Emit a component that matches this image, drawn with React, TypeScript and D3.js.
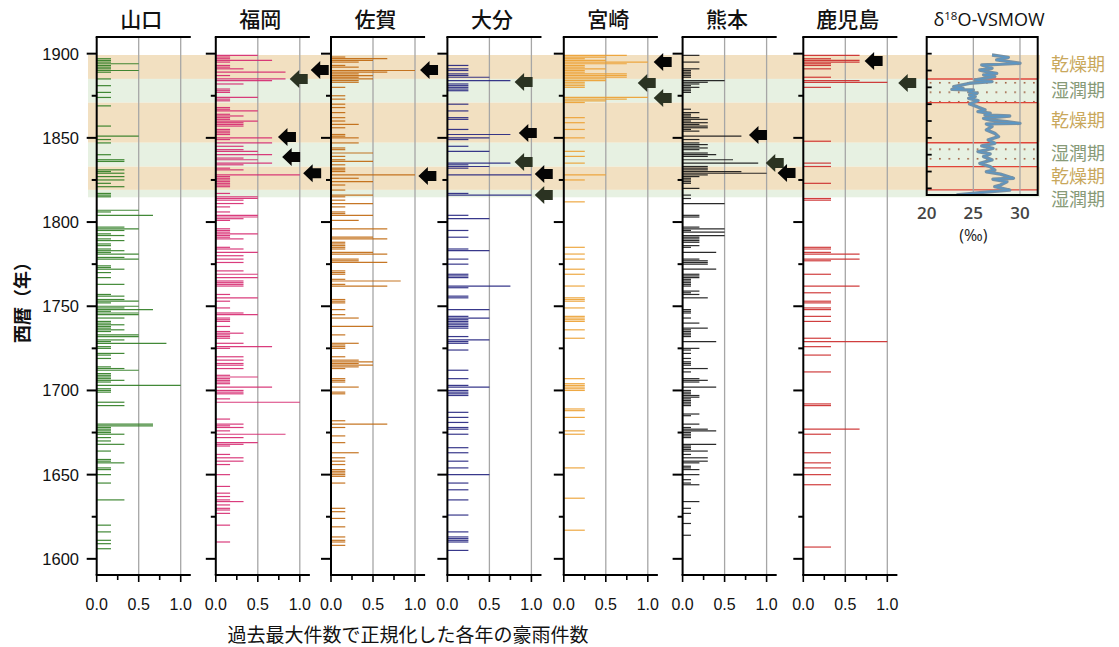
import React from 'react';
import * as d3 from 'd3';

// ---------- DATA ----------
const prefectures = ['山口', '福岡', '佐賀', '大分', '宮崎', '熊本', '鹿児島'];
const barColors = ['#2e7d22', '#d6286f', '#c0680e', '#23237f', '#eda030', '#141414', '#cc2a2a'];

// [year, normalized heavy-rain count]
const yamaguchi: [number, number][] = [
  [1897, .17], [1896, .17], [1895, .17], [1894, .5], [1893, .17], [1892, .17], [1891, .17], [1890, .5], [1889, .17], [1885, .17], [1881, .17], [1877, .17], [1874, .17], [1869, .17], [1857, .17], [1851, .5], [1849, .17], [1847, .17], [1840, .17], [1837, .33], [1836, .33], [1831, .33], [1830, .17], [1829, .33], [1827, .33], [1825, .33], [1823, .17], [1821, .33], [1817, .17], [1816, .17], [1815, .17], [1807, .5], [1806, .17], [1804, .67], [1797, .33], [1796, .5], [1795, .33], [1793, .17], [1792, .33], [1790, .17], [1789, .33], [1787, .17], [1786, .17], [1784, .17], [1783, .33], [1782, .17], [1781, .5], [1779, .33], [1778, .5], [1774, .17], [1773, .17], [1772, .33], [1770, .17], [1767, .17], [1763, .33], [1757, .17], [1756, .33], [1754, .33], [1753, .5], [1752, .17], [1750, .5], [1749, .33], [1748, .67], [1747, .17], [1746, .5], [1745, .5], [1743, .33], [1741, .17], [1740, .17], [1739, .33], [1738, .17], [1737, .17], [1736, .33], [1735, .17], [1733, .5], [1732, .5], [1730, .33], [1729, .17], [1728, .83], [1726, .17], [1725, .17], [1722, .33], [1721, .17], [1719, .17], [1714, .17], [1713, .33], [1712, .5], [1710, .17], [1709, .17], [1708, .17], [1707, .17], [1706, .33], [1705, .17], [1703, 1.0], [1701, .17], [1700, .17], [1699, .17], [1693, .33], [1691, .33], [1680, .67], [1679, .67], [1678, .17], [1677, .17], [1676, .17], [1675, .17], [1674, .33], [1672, .17], [1670, .17], [1668, .33], [1664, .17], [1659, .17], [1658, .17], [1657, .33], [1654, .17], [1653, .17], [1650, .17], [1645, .17], [1635, .33], [1620, .17], [1616, .17], [1611, .17], [1609, .17], [1606, .17],
];
const fukuoka: [number, number][] = [
  [1899, .5], [1898, .17], [1897, .17], [1896, .67], [1895, .17], [1893, .17], [1892, .17], [1891, .33], [1889, .83], [1887, .17], [1885, .83], [1884, .67], [1882, .33], [1879, .17], [1878, .17], [1877, .17], [1874, .5], [1873, .17], [1872, .17], [1868, .17], [1867, .17], [1866, .5], [1864, .17], [1863, .33], [1862, .17], [1861, .17], [1860, .5], [1859, .33], [1858, .33], [1857, .33], [1855, .17], [1854, .17], [1853, .17], [1852, .17], [1850, .67], [1849, .17], [1847, .67], [1845, .33], [1843, .33], [1842, .5], [1840, .67], [1838, .33], [1837, .5], [1835, .67], [1834, .33], [1832, .17], [1831, .33], [1828, 1.0], [1827, .17], [1826, .17], [1825, .17], [1824, .17], [1823, .17], [1822, .17], [1821, .17], [1817, .17], [1815, .5], [1814, .5], [1813, .33], [1811, .33], [1809, .17], [1806, .17], [1804, .5], [1803, .5], [1802, .33], [1801, .17], [1796, .17], [1795, .17], [1794, .17], [1793, .5], [1792, .17], [1791, .17], [1790, .33], [1785, .17], [1784, .33], [1782, .5], [1780, .33], [1778, .33], [1776, .33], [1771, .33], [1769, .5], [1767, .5], [1765, .33], [1764, .33], [1763, .33], [1762, .33], [1757, .17], [1755, .5], [1753, .17], [1749, .17], [1746, .33], [1745, .5], [1743, .17], [1742, .17], [1741, .17], [1738, .17], [1735, .17], [1734, .33], [1733, .17], [1732, .17], [1731, .17], [1728, .33], [1726, .67], [1725, .17], [1720, .33], [1718, .33], [1716, .33], [1715, .33], [1713, .33], [1709, .17], [1708, .5], [1707, .17], [1706, .17], [1705, .17], [1704, .17], [1702, .67], [1700, .33], [1699, .33], [1698, .33], [1695, .17], [1693, 1.0], [1683, .17], [1680, .33], [1679, .17], [1678, .33], [1676, .17], [1674, .83], [1672, .33], [1669, .5], [1668, .33], [1667, .17], [1662, .17], [1660, .33], [1658, .33], [1656, .17], [1650, .17], [1643, .17], [1639, .17], [1637, .17], [1635, .17], [1634, .33], [1632, .17], [1630, .17], [1629, .17], [1627, .17], [1620, .17], [1610, .17],
];
const saga: [number, number][] = [
  [1898, .17], [1897, .67], [1896, .5], [1895, .33], [1893, .17], [1892, .33], [1890, 1.0], [1889, .67], [1888, .33], [1887, .5], [1886, .33], [1885, .5], [1884, .33], [1883, .33], [1880, .17], [1875, .17], [1873, .17], [1870, .17], [1868, .17], [1865, .17], [1862, .17], [1860, .17], [1858, .33], [1856, .17], [1852, .17], [1851, .17], [1850, .33], [1847, .33], [1844, .17], [1843, .17], [1841, .5], [1839, .17], [1837, .17], [1836, .5], [1834, .17], [1832, .17], [1831, .17], [1830, .17], [1828, 1.0], [1826, .33], [1824, .5], [1822, .17], [1819, .17], [1816, .5], [1815, .17], [1813, .17], [1811, .5], [1809, .17], [1806, .17], [1805, .17], [1804, .5], [1801, .33], [1796, .67], [1791, .5], [1790, .67], [1788, .17], [1787, .17], [1786, .17], [1785, .17], [1784, .17], [1782, .5], [1781, .67], [1778, .33], [1777, .33], [1776, .67], [1771, .17], [1770, .17], [1769, .17], [1766, .17], [1765, .83], [1763, .17], [1762, .67], [1754, .17], [1753, .17], [1752, .17], [1748, .17], [1745, .17], [1743, .33], [1738, .5], [1733, .17], [1728, .33], [1727, .17], [1726, .17], [1725, .17], [1720, .17], [1718, .33], [1717, .5], [1716, .33], [1715, .5], [1714, .33], [1713, .17], [1707, .17], [1706, .17], [1705, .17], [1702, .33], [1699, .17], [1698, .17], [1682, .17], [1680, .67], [1678, .17], [1673, .17], [1669, .17], [1663, .33], [1660, .17], [1658, .17], [1656, .17], [1653, .17], [1652, .17], [1651, .17], [1650, .17], [1649, .17], [1645, .17], [1630, .17], [1628, .17], [1624, .17], [1619, .17], [1613, .17], [1611, .17], [1610, .17], [1608, .17],
];
const oita: [number, number][] = [
  [1893, .25], [1891, .25], [1890, .25], [1888, .25], [1887, .25], [1886, .5], [1884, .75], [1882, .25], [1881, .25], [1880, .25], [1879, .25], [1878, .25], [1870, .25], [1866, .25], [1862, .25], [1861, .25], [1855, .25], [1852, .75], [1850, .5], [1849, .25], [1845, .25], [1842, .5], [1835, .75], [1834, .25], [1833, .5], [1832, .25], [1828, 1.0], [1817, .25], [1816, 1.0], [1804, .25], [1802, .5], [1795, .25], [1791, .25], [1784, .25], [1783, .5], [1778, .25], [1775, .25], [1769, .25], [1768, .25], [1767, .25], [1762, .75], [1761, .25], [1756, .25], [1755, .25], [1748, .5], [1744, .25], [1743, .5], [1742, .25], [1741, .25], [1740, .25], [1739, .25], [1738, .25], [1737, .25], [1732, .25], [1730, .5], [1729, .25], [1728, .25], [1724, .25], [1712, .25], [1707, .25], [1703, .25], [1702, .5], [1700, .25], [1699, .25], [1698, .25], [1697, .25], [1687, .25], [1684, .25], [1681, .25], [1678, .25], [1677, .25], [1674, .25], [1666, .25], [1663, .25], [1658, .25], [1654, .25], [1650, .5], [1645, .25], [1641, .25], [1635, .25], [1626, .25], [1616, .25], [1613, .25], [1612, .25], [1611, .25], [1610, .25], [1605, .25],
];
const miyazaki: [number, number][] = [
  [1899, .75], [1898, .5], [1897, .25], [1896, .5], [1895, 1.0], [1894, .75], [1893, .25], [1892, .25], [1891, .5], [1890, .25], [1889, .25], [1888, .75], [1887, .75], [1886, .75], [1885, .5], [1884, .5], [1883, .25], [1882, .25], [1881, .25], [1880, .25], [1874, 1.0], [1873, .75], [1872, .5], [1871, .25], [1862, .25], [1859, .25], [1855, .25], [1850, .25], [1842, .25], [1839, .25], [1835, .25], [1828, .5], [1825, .25], [1812, .25], [1785, .25], [1781, .25], [1778, .25], [1772, .25], [1769, .25], [1762, .25], [1755, .25], [1754, .25], [1753, .25], [1749, .25], [1744, .25], [1743, .25], [1742, .25], [1741, .25], [1736, .25], [1731, .25], [1707, .25], [1704, .25], [1703, .25], [1702, .25], [1701, .25], [1700, .25], [1689, .25], [1688, .25], [1684, .25], [1676, .25], [1674, .25], [1654, .25], [1636, .25], [1617, .25],
];
const kumamoto: [number, number][] = [
  [1899, .2], [1895, .2], [1891, .2], [1890, .1], [1889, .1], [1888, .1], [1887, .1], [1886, .1], [1884, .5], [1883, .3], [1882, .2], [1881, .1], [1880, .2], [1879, .1], [1878, .1], [1877, .1], [1867, .1], [1865, .2], [1864, .1], [1863, .1], [1862, .2], [1861, .3], [1860, .1], [1859, .3], [1858, .2], [1857, .3], [1856, .3], [1855, .1], [1854, .2], [1851, .7], [1849, .2], [1847, .2], [1846, .3], [1845, .2], [1844, .3], [1843, .2], [1841, .3], [1840, .4], [1839, .3], [1837, .6], [1835, .9], [1833, .3], [1832, .3], [1831, .3], [1830, .7], [1829, 1.0], [1828, .3], [1827, .2], [1826, .1], [1825, .1], [1824, .1], [1823, .1], [1820, .2], [1816, .1], [1814, .1], [1811, .5], [1804, .2], [1803, .2], [1797, .2], [1796, .5], [1795, .1], [1794, .5], [1792, .5], [1791, .2], [1790, .2], [1789, .2], [1788, .2], [1786, .2], [1785, .1], [1782, .4], [1778, .2], [1777, .3], [1776, .3], [1775, .3], [1772, .4], [1769, .2], [1768, .2], [1767, .2], [1766, .1], [1765, .1], [1764, .1], [1763, .1], [1762, .1], [1759, .2], [1758, .1], [1757, .2], [1755, .3], [1748, .1], [1747, .1], [1746, .1], [1743, .1], [1740, .2], [1737, .3], [1736, .1], [1735, .1], [1734, .1], [1733, .1], [1732, .1], [1729, .4], [1725, .2], [1724, .1], [1722, .1], [1719, .1], [1717, .1], [1716, .1], [1715, .1], [1713, .3], [1711, .1], [1707, .2], [1706, .3], [1705, .2], [1702, .4], [1700, .1], [1699, .1], [1698, .1], [1697, .2], [1696, .2], [1695, .1], [1694, .1], [1693, .1], [1692, .1], [1691, .1], [1686, .2], [1685, .1], [1680, .2], [1678, .1], [1677, .3], [1676, .4], [1675, .1], [1674, .1], [1673, .1], [1672, .1], [1668, .4], [1667, .1], [1666, .1], [1665, .1], [1664, .3], [1662, .1], [1660, .3], [1658, .3], [1657, .2], [1655, .1], [1654, .1], [1653, .2], [1650, .2], [1647, .1], [1645, .1], [1644, .2], [1634, .2], [1630, .1], [1627, .1], [1621, .1], [1614, .1],
];
const kagoshima: [number, number][] = [
  [1899, .67], [1897, .33], [1896, .67], [1895, .67], [1894, .33], [1893, .33], [1891, .33], [1886, .33], [1884, .67], [1883, 1.0], [1880, .33], [1848, .33], [1835, .33], [1833, .33], [1823, .33], [1814, .33], [1813, .33], [1785, .33], [1784, .33], [1782, .33], [1781, .67], [1778, .67], [1777, .33], [1769, .33], [1762, .67], [1758, .33], [1753, .33], [1752, .33], [1749, .33], [1748, .33], [1744, .33], [1741, .33], [1731, .33], [1729, 1.0], [1726, .33], [1721, .33], [1711, .33], [1692, .33], [1691, .33], [1677, .67], [1674, .33], [1663, .33], [1657, .33], [1654, .33], [1650, .33], [1644, .33], [1607, .33],
];
const seriesList = [yamaguchi, fukuoka, saga, oita, miyazaki, kumamoto, kagoshima];

// climate periods (dry / wet)
const periodStart = [1899.2, 1885.0, 1870.9, 1847.1, 1832.9, 1819.1];
const periodEnd = [1885.0, 1870.9, 1847.1, 1832.9, 1819.1, 1814.7];
const periodType = ['dry', 'wet', 'dry', 'wet', 'dry', 'wet'];
const periodLabelYear = [1893.3, 1878.4, 1860.6, 1840.6, 1826.8, 1813.1];
const periodNames: Record<string, string> = { dry: '乾燥期', wet: '湿潤期' };

// δ18O record
const d18Year = [1899.2, 1897.8, 1896.3, 1894.3, 1893.3, 1891.3, 1890.3, 1889.3, 1888.3, 1887.4, 1886.4, 1884.4, 1883.4, 1882.4, 1880.4, 1879.4, 1878.8, 1878.4, 1877.5, 1876.5, 1875.5, 1874.5, 1873.5, 1872.1, 1870.1, 1868.5, 1866.6, 1865.6, 1864.6, 1863.6, 1863.0, 1861.6, 1860.6, 1859.6, 1858.6, 1858.3, 1856.7, 1854.7, 1852.7, 1850.7, 1848.8, 1846.8, 1845.2, 1843.8, 1841.8, 1840.4, 1838.9, 1836.9, 1834.9, 1832.9, 1830.9, 1829.9, 1828.5, 1826.0, 1825.4, 1824.0, 1822.0, 1821.0, 1819.0, 1817.5, 1816.1];
const d18Value = [27.0, 28.75, 27.5, 30.0, 25.9, 27.0, 25.7, 26.4, 27.5, 26.1, 27.3, 25.2, 27.0, 24.6, 22.9, 23.9, 22.7, 25.0, 24.5, 25.4, 24.6, 25.2, 24.5, 25.5, 24.6, 25.4, 26.25, 25.5, 26.8, 26.25, 28.9, 26.1, 26.8, 28.6, 30.0, 26.4, 27.0, 26.4, 27.3, 27.7, 26.6, 27.3, 25.9, 27.1, 25.5, 26.8, 26.1, 27.0, 25.7, 26.8, 27.3, 26.4, 27.9, 29.3, 27.1, 28.6, 27.9, 27.3, 28.9, 25.7, 23.2];

// arrows: panel index, year, x-value of tip, kind
const arrowPanel = [1, 1, 1, 1, 1, 2, 2, 3, 3, 3, 3, 3, 4, 4, 4, 5, 5, 5, 6, 6];
const arrowYear = [1890.3, 1885.0, 1850.5, 1838.6, 1829.0, 1890.3, 1827.3, 1883.2, 1852.9, 1835.7, 1828.6, 1816.0, 1895.0, 1882.6, 1873.7, 1851.7, 1835.1, 1829.2, 1895.7, 1882.6];
const arrowTip = [1.13, 0.88, 0.74, 0.79, 1.04, 1.06, 1.04, 0.80, 0.85, 0.80, 1.04, 1.04, 1.07, 0.88, 1.07, 0.79, 0.99, 1.13, 0.73, 1.13];
const arrowKind = ['k', 'o', 'k', 'k', 'k', 'k', 'k', 'o', 'k', 'o', 'k', 'o', 'k', 'o', 'o', 'k', 'o', 'k', 'k', 'o'];

const xTicks = [0, 0.5, 1.0];
const yLabelTicks = [1600, 1650, 1700, 1750, 1800, 1850, 1900];
const d18Ticks = [20, 25, 30];

// ---------- LAYOUT ----------
const W = 1119, H = 647;
const TOP = 37, BOTTOM = 575;
const panelLeft = [96.7, 215.8, 331, 447.4, 563.8, 682.6, 803.3];
const UNIT = 84;
const AXIS_EXT = 1.12;
const yScale = d3.scaleLinear().domain([1590.4, 1909.9]).range([BOTTOM, TOP]);
const D18_LEFT = 926.7, D18_RIGHT = 1037.7, D18_BOTTOM = 195;
const d18x = d3.scaleLinear().domain([20, 31.9]).range([D18_LEFT, D18_RIGHT]);
const BAND_L = 88, BAND_R = 1040;

const tanColor = '#f2e0c1';
const greenColor = '#e7f1e2';
const jp = '"Noto Sans CJK JP", "Noto Sans", sans-serif';
const arial = '"Liberation Sans", Arial, sans-serif';
const narrow = '"Liberation Sans Narrow", "Arial Narrow", "Liberation Sans", sans-serif';

function arrowPath(x0: number, y: number) {
  return `M${x0},${y} L${x0 + 9.5},${y - 9} L${x0 + 9.5},${y - 5} L${x0 + 18},${y - 5} L${x0 + 18},${y + 5} L${x0 + 9.5},${y + 5} L${x0 + 9.5},${y + 9} Z`;
}

export default function App() {
  const minorTicks = d3.range(1600, 1901, 25);
  const d18Line = d3.line<number>()
    .x((_, i) => d18x(d18Value[i]))
    .y((_, i) => yScale(d18Year[i]))
    .curve(d3.curveLinear);
  const d18Path = d18Line(d18Year) || '';
  const d18TickYears = d3.range(1820, 1901, 10);

  return (
    <svg width={W} height={H} style={{ position: 'absolute', left: 0, top: 0, background: '#fff' }}>
      <defs>
        <pattern id="dots" width="9.4" height="9.5" patternUnits="userSpaceOnUse" x={D18_LEFT + 3} y={yScale(1885) + 3}>
          <rect x="0" y="0" width="1.6" height="1.6" fill="#9b5a3a" />
        </pattern>
        <clipPath id="d18clip">
          <rect x={D18_LEFT} y={TOP} width={D18_RIGHT - D18_LEFT} height={D18_BOTTOM - TOP} />
        </clipPath>
      </defs>
      <rect x={0} y={0} width={W} height={H} fill="#fff" />

      {/* period bands */}
      {periodStart.map((s, i) => (
        <rect key={'band' + i} x={BAND_L} y={yScale(s)} width={BAND_R - BAND_L}
          height={yScale(periodEnd[i]) - yScale(s)}
          fill={periodType[i] === 'dry' ? tanColor : greenColor} />
      ))}

      {/* panels */}
      {seriesList.map((series, p) => {
        const x = d3.scaleLinear().domain([0, 1]).range([panelLeft[p], panelLeft[p] + UNIT]);
        return (
          <g key={'panel' + p}>
            {[0.5, 1.0].map(g => (
              <line key={'g' + g} x1={x(g)} x2={x(g)} y1={TOP} y2={BOTTOM} stroke="#a6a6a6" strokeWidth={1.3} />
            ))}
            {series.map(([yr, v], i) => (
              <line key={'b' + i} x1={x(0)} x2={x(v)} y1={yScale(yr)} y2={yScale(yr)}
                stroke={barColors[p]} strokeWidth={1.2} opacity={0.9} />
            ))}
            {/* left axis */}
            <line x1={x(0)} x2={x(0)} y1={TOP} y2={BOTTOM} stroke="#000" strokeWidth={2} />
            {minorTicks.map(t => (
              <line key={'yt' + t} x1={x(0) - (t % 50 === 0 ? 10 : 5)} x2={x(0)} y1={yScale(t)} y2={yScale(t)} stroke="#000" strokeWidth={2} />
            ))}
            {/* top line */}
            <line x1={x(0) - 1} x2={x(AXIS_EXT)} y1={TOP} y2={TOP} stroke="#000" strokeWidth={2} />
            {/* bottom axis */}
            <line x1={x(0) - 1} x2={x(AXIS_EXT)} y1={BOTTOM} y2={BOTTOM} stroke="#000" strokeWidth={2} />
            {[0, 0.25, 0.5, 0.75, 1].map(t => (
              <line key={'xt' + t} x1={x(t)} x2={x(t)} y1={BOTTOM} y2={BOTTOM + (t === 0.25 || t === 0.75 ? 5 : 7)} stroke="#000" strokeWidth={1.6} />
            ))}
            {xTicks.map(t => (
              <text key={'xl' + t} x={x(t)} y={610} textAnchor="middle" fontFamily={narrow} fontSize={16} fill="#111">
                {t.toFixed(1)}
              </text>
            ))}
            <text x={x(0.53)} y={27} textAnchor="middle" fontFamily={jp} fontSize={21} fontWeight={500} fill="#111">
              {prefectures[p]}
            </text>
          </g>
        );
      })}

      {/* y tick labels */}
      {yLabelTicks.map(t => (
        <text key={'yl' + t} x={79} y={yScale(t) + 6} textAnchor="end" fontFamily={arial} fontSize={16.5} fill="#111">{t}</text>
      ))}
      <text transform={`translate(29,298) rotate(-90)`} textAnchor="middle" fontFamily={jp} fontSize={18} fontWeight={700} fill="#111">西暦（年）</text>

      {/* x axis title */}
      <text x={408} y={642} textAnchor="middle" fontFamily={jp} fontSize={19} fill="#111">過去最大件数で正規化した各年の豪雨件数</text>

      {/* δ18O panel */}
      <g>
        <rect x={D18_LEFT} y={TOP} width={D18_RIGHT - D18_LEFT} height={D18_BOTTOM - TOP} fill="#fff" />
        <g clipPath="url(#d18clip)">
          {periodStart.map((s, i) => (
            <g key={'dband' + i}>
              <rect x={D18_LEFT} y={yScale(s)} width={D18_RIGHT - D18_LEFT}
                height={yScale(periodEnd[i]) - yScale(s)}
                fill={periodType[i] === 'dry' ? tanColor : greenColor} />
              {periodType[i] === 'wet' && (
                <rect x={D18_LEFT} y={yScale(s)} width={D18_RIGHT - D18_LEFT}
                  height={yScale(periodEnd[i]) - yScale(s)} fill="url(#dots)" />
              )}
            </g>
          ))}
          {periodStart.slice(1).map((s, i) => (
            <line key={'rl' + i} x1={D18_LEFT} x2={D18_RIGHT} y1={yScale(s)} y2={yScale(s)} stroke="#e0453a" strokeWidth={1.4} />
          ))}
          {[25, 30].map(g => (
            <line key={'dg' + g} x1={d18x(g)} x2={d18x(g)} y1={TOP} y2={D18_BOTTOM} stroke="#a6a6a6" strokeWidth={1.3} />
          ))}
          <path d={d18Path} fill="none" stroke="#7891a3" strokeWidth={3.4} strokeLinejoin="round" />
          <path d={d18Path} fill="none" stroke="#5a97c6" strokeWidth={1.1} strokeLinejoin="round" />
        </g>
        {d18TickYears.map(t => (
          <line key={'dt' + t} x1={D18_LEFT} x2={D18_LEFT + 5} y1={yScale(t)} y2={yScale(t)} stroke="#000" strokeWidth={1.8} />
        ))}
        <rect x={D18_LEFT} y={TOP} width={D18_RIGHT - D18_LEFT} height={D18_BOTTOM - TOP} fill="none" stroke="#000" strokeWidth={2} />
        {d18Ticks.map(t => (
          <text key={'dxl' + t} x={d18x(t)} y={219} textAnchor="middle" fontFamily={'"Open Sans", sans-serif'} fontSize={17} fontWeight={600} fill="#444">{t}</text>
        ))}
        <text x={d18x(25)} y={241} textAnchor="middle" fontFamily={'"Open Sans", sans-serif'} fontSize={16} fill="#222">(‰)</text>
        <text x={989} y={26} textAnchor="middle" fontFamily={'"Open Sans", sans-serif'} fontSize={18} fill="#111">
          δ<tspan dy={-6} fontSize={11.5}>18</tspan><tspan dy={6}>O-VSMOW</tspan>
        </text>
      </g>

      {/* period labels */}
      {periodLabelYear.map((yr, i) => (
        <text key={'pl' + i} x={1051} y={yScale(yr) + 6.5} fontFamily={jp} fontSize={18}
          fill={periodType[i] === 'dry' ? '#c9a85c' : '#879a78'}>{periodNames[periodType[i]]}</text>
      ))}

      {/* arrows */}
      {arrowPanel.map((p, i) => {
        const x = d3.scaleLinear().domain([0, 1]).range([panelLeft[p], panelLeft[p] + UNIT]);
        return (
          <path key={'ar' + i} d={arrowPath(x(arrowTip[i]), yScale(arrowYear[i]))}
            fill={arrowKind[i] === 'k' ? '#050505' : '#2b3322'} />
        );
      })}
    </svg>
  );
}
